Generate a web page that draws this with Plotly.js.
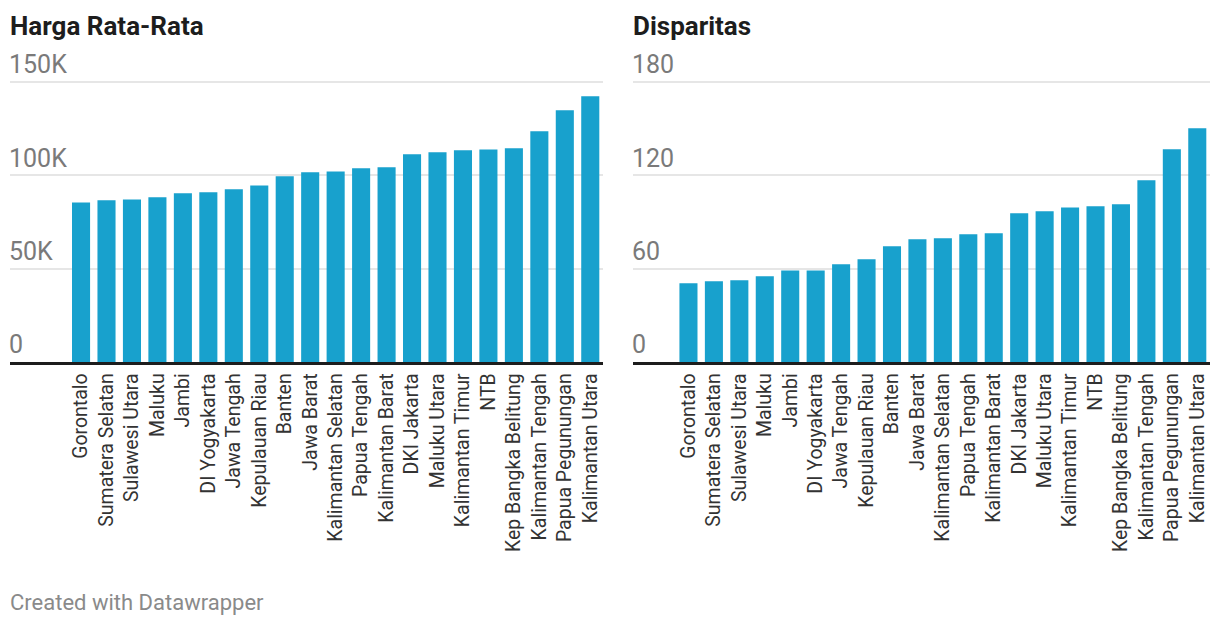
<!DOCTYPE html>
<html>
<head>
<meta charset="utf-8">
<script src="https://cdn.plot.ly/plotly-3.0.1.min.js"></script>
<style>html,body{margin:0;padding:0;background:#fff;}#chart{width:1220px;height:626px;}</style>
</head>
<body>
<div id="chart"></div>
<script>
const provinces = ["Gorontalo","Sumatera Selatan","Sulawesi Utara","Maluku","Jambi","DI Yogyakarta","Jawa Tengah","Kepulauan Riau","Banten","Jawa Barat","Kalimantan Selatan","Papua Tengah","Kalimantan Barat","DKI Jakarta","Maluku Utara","Kalimantan Timur","NTB","Kep Bangka Belitung","Kalimantan Tengah","Papua Pegunungan","Kalimantan Utara"];
const hargaRataRata = [85500,86600,87100,88200,90400,90900,92500,94600,99500,101600,102100,103750,104300,111250,112300,113400,113900,114500,123600,134800,142300];
const disparitas = [50.6,51.9,52.5,55.1,58.9,58.9,62.8,66.0,74.4,78.9,79.5,82.1,82.7,95.6,96.9,99.4,100.1,101.4,116.8,136.7,150.2];
const hargaTicks = [0,50000,100000,150000];
const hargaTickText = ["0","50K","100K","150K"];
const dispTicks = [0,60,120,180];
const dispTickText = ["0","60","120","180"];
const titles = ["Harga Rata-Rata","Disparitas"];
const footer = "Created with Datawrapper";

const W = 1220, H = 626;
const px = x => x / W;
const py = y => (H - y) / H;
const barColor = "#18a1cd";
// plot area: baseline at y=362, top gridline at y=82; headroom above so the top tick label fits inside
const TOP = 50, BASE = 362, GRID_TOP = 82;
const headroom = (BASE - TOP) / (BASE - GRID_TOP);

const traces = [
  {type:"bar", x: provinces, y: hargaRataRata, xaxis:"x", yaxis:"y", marker:{color:barColor}, hoverinfo:"skip"},
  {type:"bar", x: provinces, y: disparitas, xaxis:"x2", yaxis:"y2", marker:{color:barColor}, hoverinfo:"skip"}
];

function xax(anchor, domain, range){
  return {anchor: anchor, domain: domain, range: range, type:"category", tickangle:-90,
    tickfont:{family:"Roboto", size:19.5, color:"#333"}, showline:true, linecolor:"#1d1d1d", linewidth:2.5,
    ticks:"", showgrid:false, zeroline:false, fixedrange:true, ticklabelstandoff:1};
}
function yax(anchor, top, vals, text){
  return {anchor: anchor, domain:[py(BASE), py(TOP)], range: [0, top*headroom], tickvals: vals, ticktext: text,
    ticklabelposition:"inside top", tickfont:{family:"Roboto", size:25, color:"#7a7a7a"}, ticklabelstandoff:-4,
    showgrid:true, gridcolor:"#e6e6e6", gridwidth:2, zeroline:false, showline:false, ticks:"", fixedrange:true};
}

const layout = {
  width: W, height: H, margin:{l:0,r:0,t:0,b:0}, paper_bgcolor:"#fff", plot_bgcolor:"#fff",
  showlegend:false, bargap:0.29, font:{family:"Roboto"},
  xaxis: xax("y", [px(10), px(603)], [-2.79, 20.5]),
  yaxis: yax("x", 150000, hargaTicks, hargaTickText),
  xaxis2: xax("y2", [px(633), px(1210)], [-2.18, 20.5]),
  yaxis2: yax("x2", 180, dispTicks, dispTickText),
  annotations: [
    {text:"<b>"+titles[0]+"</b>", xref:"paper", yref:"paper", x:px(8), y:py(26), xanchor:"left", yanchor:"middle", showarrow:false, font:{family:"Roboto", size:26, color:"#1d1d1d"}},
    {text:"<b>"+titles[1]+"</b>", xref:"paper", yref:"paper", x:px(631), y:py(26), xanchor:"left", yanchor:"middle", showarrow:false, font:{family:"Roboto", size:26, color:"#1d1d1d"}},
    {text:footer, xref:"paper", yref:"paper", x:px(8), y:py(602), xanchor:"left", yanchor:"middle", showarrow:false, font:{family:"Roboto", size:22, color:"#8a8a8a"}}
  ]
};

Plotly.newPlot("chart", traces, layout, {staticPlot:true, displayModeBar:false});
</script>
</body>
</html>
